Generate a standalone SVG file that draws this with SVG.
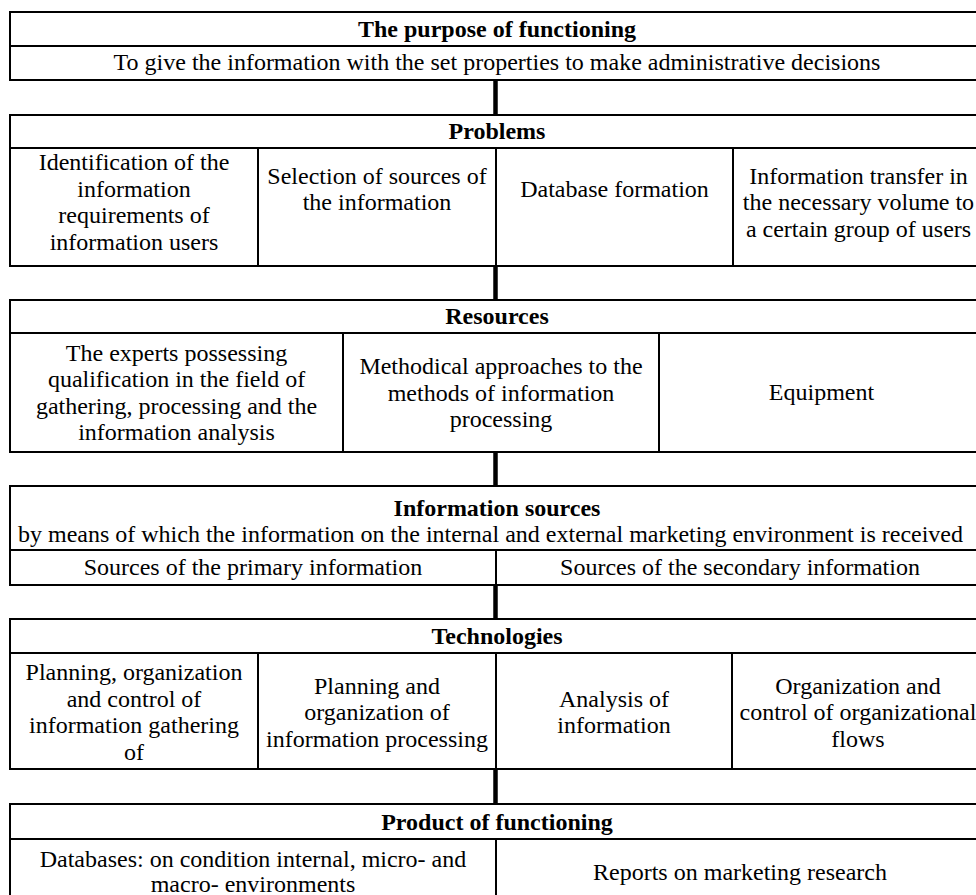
<svg xmlns="http://www.w3.org/2000/svg" width="976" height="895" viewBox="0 0 976 895">
<style>
.box{fill:#fff;stroke:#000;stroke-width:2}
.ln{stroke:#000;stroke-width:2;fill:none}
.con{stroke:#000;stroke-width:4.5;fill:none}
text{font-family:"Liberation Serif","Times New Roman",serif;font-size:24px;fill:#000;text-anchor:middle}
.b{font-weight:bold}
</style>
<rect x="0" y="0" width="976" height="895" fill="#fff"/>
<g id="connectors">
<line class="con" x1="495.5" y1="80" x2="495.5" y2="115"/>
<line class="con" x1="495.5" y1="266" x2="495.5" y2="300"/>
<line class="con" x1="495.5" y1="452" x2="495.5" y2="486"/>
<line class="con" x1="495.5" y1="585" x2="495.5" y2="619"/>
<line class="con" x1="495.5" y1="769" x2="495.5" y2="804"/>
</g>
<g id="purpose">
<rect class="box" x="10" y="12" width="974" height="68"/>
<line class="ln" x1="10" y1="46" x2="984" y2="46"/>
<text class="b" x="497" y="37">The purpose of functioning</text>
<text x="497" y="70">To give the information with the set properties to make administrative decisions</text>
</g>
<g id="problems">
<rect class="box" x="10" y="115" width="974" height="151"/>
<line class="ln" x1="10" y1="148" x2="984" y2="148"/>
<line class="ln" x1="258" y1="148" x2="258" y2="266"/>
<line class="ln" x1="496" y1="148" x2="496" y2="266"/>
<line class="ln" x1="733" y1="148" x2="733" y2="266"/>
<text class="b" x="497" y="138.5">Problems</text>
<text x="134" y="170">Identification of the</text>
<text x="134" y="196.5">information</text>
<text x="134" y="223">requirements of</text>
<text x="134" y="249.5">information users</text>
<text x="377" y="183.5">Selection of sources of</text>
<text x="377" y="210">the information</text>
<text x="614.5" y="197">Database formation</text>
<text x="858.5" y="183.5">Information transfer in</text>
<text x="858.5" y="210">the necessary volume to</text>
<text x="858.5" y="236.5">a certain group of users</text>
</g>
<g id="resources">
<rect class="box" x="10" y="300" width="974" height="152"/>
<line class="ln" x1="10" y1="333" x2="984" y2="333"/>
<line class="ln" x1="343" y1="333" x2="343" y2="452"/>
<line class="ln" x1="659" y1="333" x2="659" y2="452"/>
<text class="b" x="497" y="324">Resources</text>
<text x="176.5" y="360.5">The experts possessing</text>
<text x="176.5" y="387">qualification in the field of</text>
<text x="176.5" y="413.5">gathering, processing and the</text>
<text x="176.5" y="440">information analysis</text>
<text x="501" y="374">Methodical approaches to the</text>
<text x="501" y="400.5">methods of information</text>
<text x="501" y="427">processing</text>
<text x="821.5" y="400">Equipment</text>
</g>
<g id="sources">
<rect class="box" x="10" y="486" width="974" height="99"/>
<line class="ln" x1="10" y1="550" x2="984" y2="550"/>
<line class="ln" x1="496" y1="550" x2="496" y2="585"/>
<text class="b" x="497" y="516">Information sources</text>
<text x="490.5" y="542">by means of which the information on the internal and external marketing environment is received</text>
<text x="253" y="575">Sources of the primary information</text>
<text x="740" y="575">Sources of the secondary information</text>
</g>
<g id="technologies">
<rect class="box" x="10" y="619" width="974" height="150"/>
<line class="ln" x1="10" y1="653" x2="984" y2="653"/>
<line class="ln" x1="258" y1="653" x2="258" y2="769"/>
<line class="ln" x1="496" y1="653" x2="496" y2="769"/>
<line class="ln" x1="732" y1="653" x2="732" y2="769"/>
<text class="b" x="497" y="644">Technologies</text>
<text x="134" y="680">Planning, organization</text>
<text x="134" y="706.5">and control of</text>
<text x="134" y="733">information gathering</text>
<text x="134" y="759.5">of</text>
<text x="377" y="693.5">Planning and</text>
<text x="377" y="720">organization of</text>
<text x="377" y="746.5">information processing</text>
<text x="614" y="706.5">Analysis of</text>
<text x="614" y="733">information</text>
<text x="858" y="693.5">Organization and</text>
<text x="858" y="720">control of organizational</text>
<text x="858" y="746.5">flows</text>
</g>
<g id="product">
<rect class="box" x="10" y="804" width="974" height="102"/>
<line class="ln" x1="10" y1="839" x2="984" y2="839"/>
<line class="ln" x1="496" y1="839" x2="496" y2="906"/>
<text class="b" x="497" y="829.5">Product of functioning</text>
<text x="253" y="867">Databases: on condition internal, micro- and</text>
<text x="253" y="892">macro- environments</text>
<text x="740" y="880">Reports on marketing research</text>
</g>
</svg>
